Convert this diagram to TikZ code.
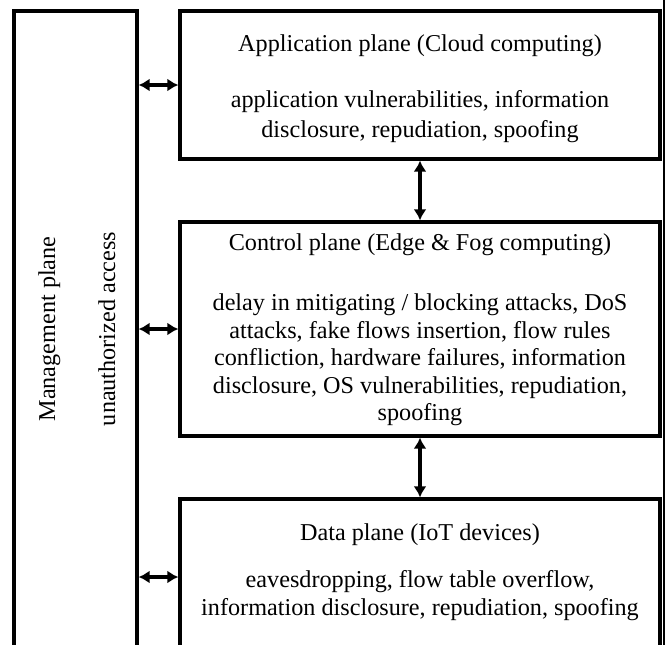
\documentclass[tikz,border=0pt]{standalone}
\usepackage{fontspec}
\setmainfont{Liberation Serif}
\usetikzlibrary{arrows.meta}
\tikzset{
  plane/.style={draw=black, line width=3.2pt, rectangle, inner sep=0pt},
  txt/.style={inner sep=0pt, align=center, font=\fontsize{24.2}{28}\selectfont},
  dbl/.style={line width=3.4pt, {Latex[length=11pt,width=13pt]}-{Latex[length=11pt,width=13pt]}}
}
\begin{document}
\begin{tikzpicture}[x=1pt,y=-1pt]
\useasboundingbox (0,0) rectangle (665,645);
% boxes
\node[plane, minimum width=123pt, minimum height=669pt] (mgmt) at (75.5,345.5) {};
\node[plane, minimum width=480pt, minimum height=148pt] (app) at (420,85) {};
\node[plane, minimum width=480pt, minimum height=214pt] (ctrl) at (420,329) {};
\node[plane, minimum width=480pt, minimum height=156pt] (data) at (420,577) {};
% right edge bar
\fill[black] (663,0) rectangle (665,645);
% texts
\node[txt, anchor=base, rotate=90] (mgmtt) at (55,329) {Management plane};
\node[txt, anchor=base, rotate=90] (mgmtb) at (115,329) {unauthorized access};
\node[txt, anchor=base] (appt) at (420,52) {Application plane (Cloud computing)};
\node[txt, anchor=north, font=\fontsize{24.2}{30}\selectfont] (appb) at (420,90.3)
  {application vulnerabilities, information\\disclosure, repudiation, spoofing};
\node[txt, anchor=base] (ctrlt) at (420,250) {Control plane (Edge \& Fog computing)};
\node[txt, anchor=north, font=\fontsize{24.2}{27.5}\selectfont] (ctrlb) at (420,293.6)
  {delay in mitigating / blocking attacks, DoS\\attacks, fake flows insertion, flow rules\\confliction, hardware failures, information\\disclosure, OS vulnerabilities, repudiation,\\spoofing};
\node[txt, anchor=base] (datat) at (420,540) {Data plane (IoT devices)};
\node[txt, anchor=north] (datab) at (420,570.6)
  {eavesdropping, flow table overflow,\\information disclosure, repudiation, spoofing};
% connectors
\draw[dbl] (mgmt.east |- app.west) -- (app.west);
\draw[dbl] (mgmt.east |- ctrl.west) -- (ctrl.west);
\draw[dbl] (mgmt.east |- data.west) -- (data.west);
\draw[dbl] (app.south) -- (ctrl.north);
\draw[dbl] (ctrl.south) -- (data.north);
\end{tikzpicture}
\end{document}
